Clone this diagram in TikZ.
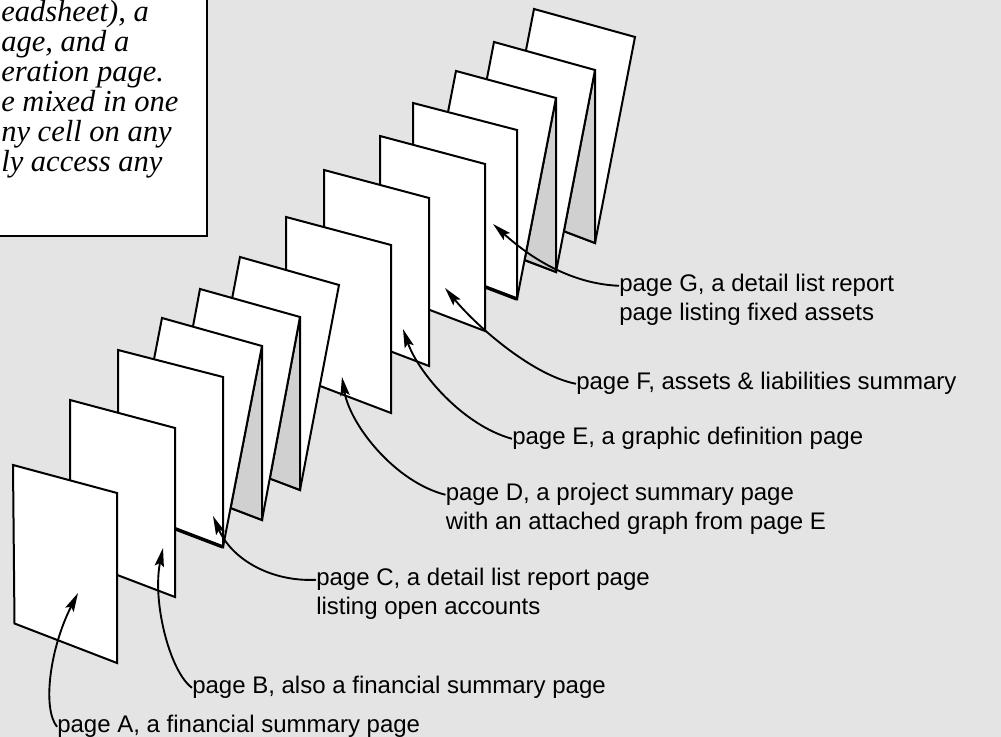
\documentclass[tikz,border=0pt]{standalone}
\usepackage{fontspec}
\setmainfont{Liberation Sans}
\newfontfamily\boxfont{Liberation Serif}
\usetikzlibrary{arrows.meta}
\definecolor{bgc}{HTML}{E4E4E4}
\definecolor{foldc}{HTML}{D0D0D0}
\begin{document}
\begin{tikzpicture}[x=0.75pt,y=-0.75pt,
  panel/.style={fill=white,draw=black,line width=1.5pt},
  foldtri/.style={fill=foldc,draw=black,line width=1.5pt},
  thickedge/.style={draw=black,line width=2.6pt},
  arr/.style={draw=black,line width=1.4pt,-{Stealth[length=14pt,width=7pt,inset=2.5pt]}},
  lab/.style={anchor=base west,inner sep=0pt,font=\fontsize{18}{22}\selectfont},
  boxtxt/.style={anchor=base west,inner sep=0pt,font=\boxfont\itshape\fontsize{22.9}{24}\selectfont}]
\fill[bgc] (0,0) rectangle (1001,737);
\useasboundingbox (0,0) rectangle (1001,737);
% text box
\filldraw[fill=white,draw=black,line width=1.6pt] (-10,-10) rectangle (207,236);
\node[boxtxt] (t1) at (1,22) {eadsheet), a};
\node[boxtxt] (t2) at (1,52) {age, and a};
\node[boxtxt] (t3) at (1,82) {eration page.};
\node[boxtxt] (t4) at (1,112) {e mixed in one};
\node[boxtxt] (t5) at (1,142) {ny cell on any};
\node[boxtxt] (t6) at (1,172) {ly access any};
% ---- group G (back)
\filldraw[panel] (534,9) -- (635,37) -- (595,243) -- (495.8,205.5) -- cycle;
\filldraw[foldtri] (595,70) -- (595,243) -- (563.9,231.2) -- cycle;
\filldraw[panel] (494,42) -- (595,70) -- (556,272) -- (456.8,234.7) -- cycle;
\filldraw[foldtri] (556,98) -- (556,272) -- (524.6,260) -- cycle;
\filldraw[panel] (456,71) -- (556,98) -- (517,299) -- (418.8,262.3) -- cycle;
\filldraw[panel] (413,103) -- (517,130) -- (517,299) -- (413,259.5) -- cycle;
\draw[thickedge] (517,299) -- (413,259.5);
% ---- single pages F, E, D
\filldraw[panel] (380,136) -- (485,164) -- (485,331) -- (380,291) -- cycle;
\filldraw[panel] (324,170) -- (429,198) -- (429,366) -- (324,326) -- cycle;
\filldraw[panel] (286,217) -- (391,245) -- (391,413) -- (286,373) -- cycle;
% ---- group C
\filldraw[panel] (240,257) -- (339,285) -- (300,490) -- (202.8,452.6) -- cycle;
\filldraw[foldtri] (300,317) -- (300,490) -- (269.8,478.6) -- cycle;
\filldraw[panel] (200,289) -- (300,317) -- (262,520) -- (163.7,482.7) -- cycle;
\filldraw[foldtri] (262,346) -- (262,520) -- (230.6,508) -- cycle;
\filldraw[panel] (162,318) -- (262,346) -- (223,547) -- (124.8,509.8) -- cycle;
\filldraw[panel] (118,350) -- (223,377) -- (223,547) -- (118,507) -- cycle;
\draw[thickedge] (223,547) -- (118,507);
% ---- pages B, A
\filldraw[panel] (70,400) -- (175,428) -- (175,597) -- (70,557) -- cycle;
\filldraw[panel] (13,465) -- (117,493) -- (117,663) -- (14.5,623.5) -- cycle;
% ---- arrow tips
\coordinate (tipA) at (78,593);
\coordinate (tipB) at (163,548);
\coordinate (tipC) at (213,516);
\coordinate (tipD) at (342,377);
\coordinate (tipE) at (403,329);
\coordinate (tipF) at (445,288);
\coordinate (tipG) at (493,224);
% ---- labels
\node[lab] (lA) at (57,733) {page A, a financial summary page};
\node[lab] (lB) at (192,694) {page B, also a financial summary page};
\node[lab] (lC) at (316,586) {page C, a detail list report page};
\node[lab] (lC2) at (316,615) {listing open accounts};
\node[lab] (lD) at (445.5,501) {page D, a project summary page};
\node[lab] (lD2) at (445.5,530) {with an attached graph from page E};
\node[lab] (lE) at (512,445) {page E, a graphic definition page};
\node[lab] (lF) at (576,390) {page F, assets \& liabilities summary};
\node[lab] (lG) at (619,292) {page G, a detail list report};
\node[lab] (lG2) at (619,321) {page listing fixed assets};
% ---- arrows
\draw[arr] (lA.west) .. controls (42,708) and (50,648) .. (tipA);
\draw[arr] (lB.west) .. controls (170,672) and (152,602) .. (tipB);
\draw[arr] (lC.west) .. controls (272,582) and (232,560) .. (tipC);
\draw[arr] (lD.west) .. controls (395,482) and (350,425) .. (tipD);
\draw[arr] (lE.west) .. controls (462,425) and (418,372) .. (tipE);
\draw[arr] (lF.west) .. controls (535,376) and (480,330) .. (tipF);
\draw[arr] (lG.west) .. controls (575,284) and (535,262) .. (tipG);
\end{tikzpicture}
\end{document}
